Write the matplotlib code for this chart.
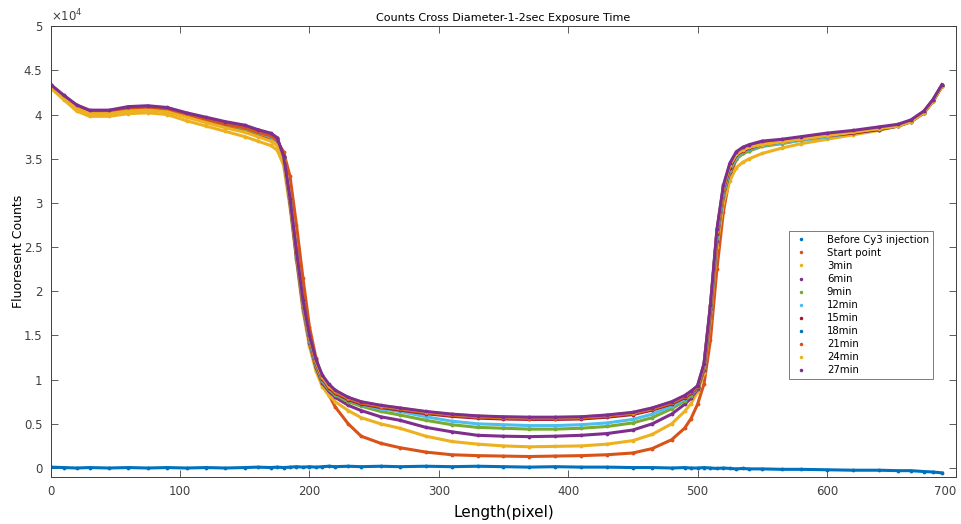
import matplotlib
matplotlib.use("Agg")
import matplotlib.pyplot as plt
from matplotlib.lines import Line2D

# pixel positions along the diameter (sampled)
length_px = [0, 10, 20, 30, 45, 60, 75, 90, 105, 120,
             135, 150, 160, 170, 175, 180, 185, 190, 195, 200,
             205, 210, 215, 220, 230, 240, 255, 270, 290, 310,
             330, 350, 370, 390, 410, 430, 450, 465, 480, 490,
             495, 500, 505, 510, 515, 520, 525, 530, 535, 540,
             550, 565, 580, 600, 620, 640, 655, 665, 675, 682, 689]

before = [100, 50, 0, 50, 0, 50, 0, 50, 0, 50,
          0, 50, 100, 50, 100, 50, 100, 150, 100, 150,
          100, 150, 200, 150, 200, 150, 200, 150, 200, 150,
          200, 150, 100, 150, 100, 100, 50, 50, 0, 50,
          0, 0, 50, 0, -50, 0, -50, -100, -50, -100,
          -100, -150, -150, -200, -250, -250, -300, -300, -400, -450, -550]

start = [43200, 41900, 40800, 40200, 40200, 40500, 40600, 40400, 39800, 39200,
         38700, 38200, 37700, 37300, 37000, 35800, 33000, 27500, 21500, 16000,
         12500, 10000, 8300, 6900, 5000, 3600, 2800, 2300, 1800, 1500,
         1400, 1350, 1300, 1350, 1400, 1500, 1700, 2200, 3200, 4500,
         5600, 7200, 9500, 14500, 22500, 29000, 33000, 35000, 35800, 36200,
         36600, 36900, 37200, 37600, 38000, 38400, 38800, 39300, 40300, 41600, 43300]

m3 = [43000, 41700, 40400, 39800, 39800, 40100, 40200, 40000, 39300, 38700,
      38100, 37500, 37000, 36500, 36000, 34300, 29500, 23500, 17800, 13800,
      11000, 9200, 8200, 7500, 6500, 5700, 5000, 4500, 3600, 3000,
      2700, 2500, 2400, 2450, 2500, 2700, 3100, 3800, 5000, 6400,
      7300, 8600, 10700, 16800, 25000, 30000, 32500, 34000, 34600, 35000,
      35600, 36200, 36700, 37200, 37700, 38200, 38700, 39200, 40200, 41500, 43200]

m6 = [43300, 42100, 41000, 40400, 40400, 40800, 40900, 40700, 40100, 39600,
      39100, 38700, 38200, 37800, 37300, 35200, 30000, 23800, 18200, 14200,
      11400, 9600, 8700, 8000, 7100, 6500, 5800, 5400, 4600, 4100,
      3700, 3600, 3550, 3600, 3700, 3900, 4300, 5000, 6100, 7200,
      7900, 8900, 11100, 17300, 25700, 30800, 33500, 35000, 35600, 35900,
      36500, 36900, 37200, 37600, 38000, 38400, 38800, 39300, 40300, 41600, 43300]

m9 = [43200, 42000, 40900, 40300, 40300, 40600, 40700, 40500, 40000, 39400,
      38900, 38400, 37900, 37500, 37000, 35000, 30000, 24000, 18400, 14400,
      11600, 9800, 8900, 8250, 7500, 7000, 6400, 6000, 5400, 4900,
      4600, 4500, 4400, 4400, 4500, 4700, 5100, 5700, 6700, 7600,
      8200, 9000, 11300, 17600, 26000, 31000, 33600, 35000, 35600, 35900,
      36400, 36700, 37100, 37500, 37900, 38300, 38700, 39200, 40200, 41500, 43200]

m12 = [43200, 42000, 40900, 40300, 40300, 40600, 40700, 40500, 40000, 39400,
       38900, 38500, 38000, 37500, 37000, 35000, 30000, 24000, 18500, 14500,
       11800, 10000, 9000, 8400, 7700, 7200, 6700, 6400, 5800, 5300,
       5000, 4900, 4800, 4800, 4900, 5100, 5500, 6100, 7000, 7800,
       8400, 9100, 11400, 17800, 26200, 31200, 33800, 35200, 35800, 36100,
       36500, 36800, 37100, 37500, 37900, 38300, 38700, 39200, 40200, 41500, 43200]

m15 = [43300, 42100, 41000, 40400, 40400, 40800, 40900, 40700, 40100, 39600,
       39100, 38700, 38200, 37800, 37300, 35200, 30200, 24200, 18700, 14700,
       11900, 10100, 9100, 8450, 7750, 7250, 6850, 6550, 6150, 5850,
       5650, 5550, 5500, 5500, 5550, 5750, 6050, 6550, 7250, 7950,
       8450, 9100, 11500, 18000, 26500, 31500, 34000, 35400, 35900, 36200,
       36600, 36900, 37200, 37600, 37900, 38300, 38700, 39200, 40200, 41500, 43200]

m18 = [43300, 42100, 41000, 40400, 40400, 40700, 40800, 40600, 40100, 39500,
       39000, 38600, 38100, 37700, 37200, 35100, 30400, 24400, 18900, 14900,
       12100, 10300, 9300, 8650, 7900, 7400, 7000, 6700, 6300, 6000,
       5800, 5700, 5650, 5650, 5700, 5900, 6200, 6700, 7400, 8100,
       8600, 9200, 11700, 18300, 26800, 31800, 34300, 35600, 36100, 36400,
       36800, 37000, 37300, 37700, 38100, 38500, 38800, 39300, 40300, 41600, 43300]

m21 = [43300, 42000, 40900, 40300, 40300, 40600, 40700, 40500, 40000, 39400,
       38900, 38500, 38000, 37600, 37100, 35000, 30300, 24300, 18800, 14800,
       12000, 10200, 9200, 8550, 7850, 7350, 6950, 6650, 6250, 5950,
       5750, 5650, 5600, 5600, 5650, 5850, 6150, 6650, 7350, 8050,
       8550, 9150, 11600, 18200, 26700, 31700, 34200, 35500, 36000, 36300,
       36700, 37000, 37300, 37700, 38000, 38400, 38800, 39300, 40300, 41600, 43300]

m24 = [43200, 41900, 40700, 40100, 40100, 40400, 40500, 40300, 39700, 39100,
       38500, 38000, 37500, 37000, 36500, 34800, 30300, 24300, 18800, 14800,
       12100, 10300, 9300, 8700, 7970, 7470, 7070, 6770, 6370, 6070,
       5870, 5770, 5720, 5720, 5770, 5970, 6270, 6770, 7470, 8170,
       8670, 9250, 11700, 18300, 26800, 31800, 34300, 35500, 36000, 36300,
       36600, 36900, 37200, 37600, 38000, 38400, 38700, 39200, 40200, 41500, 43200]

m27 = [43400, 42200, 41100, 40500, 40500, 40900, 41000, 40800, 40200, 39700,
       39200, 38800, 38300, 37900, 37400, 35300, 30500, 24500, 19000, 15000,
       12300, 10500, 9500, 8800, 8000, 7500, 7100, 6800, 6400, 6100,
       5900, 5800, 5750, 5750, 5800, 6000, 6300, 6800, 7500, 8200,
       8700, 9300, 11800, 18500, 27000, 32000, 34500, 35800, 36300, 36600,
       37000, 37200, 37500, 37900, 38200, 38600, 38900, 39400, 40400, 41700, 43400]

labels = ['Before Cy3 injection', 'Start point', '3min', '6min', '9min', '12min',
          '15min', '18min', '21min', '24min', '27min']
series = [before, start, m3, m6, m9, m12, m15, m18, m21, m24, m27]
colors = ['#0072BD', '#D95319', '#EDB120', '#7E2F8E', '#77AC30', '#4DBEEE',
          '#A2142F', '#0072BD', '#D95319', '#EDB120', '#7E2F8E']

fig = plt.figure(figsize=(9.62, 5.24), dpi=100)
ax = fig.add_axes([0.0527, 0.090, 0.9413, 0.860])

for vals, c in zip(series, colors):
    ax.plot(length_px, vals, color=c, lw=2.2, marker='.', ms=3.5)

ax.set_xlim(0, 700)
ax.set_ylim(-1000, 50000)
ax.set_yticks([i * 5000 for i in range(11)])
ax.set_yticklabels(['0', '0.5', '1', '1.5', '2', '2.5', '3', '3.5', '4', '4.5', '5'])
ax.set_xticks(range(0, 701, 100))
ax.tick_params(direction='in', top=True, right=True, labelsize=8.5,
               colors='#404040', length=5, width=0.6, pad=6)
for s in ax.spines.values():
    s.set_color('#404040')
    s.set_linewidth(0.7)
# keep the last x tick label inside the figure
ax.get_xticklabels()[-1].set_horizontalalignment('right')

ax.text(0.0, 1.005, r'$\times10^4$', transform=ax.transAxes, fontsize=8.5,
        color='#404040', va='bottom', ha='left')
ax.set_title('Counts Cross Diameter-1-2sec Exposure Time', fontsize=8, pad=4)
ax.set_xlabel('Length(pixel)', fontsize=11, labelpad=5)
ax.set_ylabel('Fluoresent Counts', fontsize=9, labelpad=-1)

handles = [Line2D([], [], ls='none', marker='.', ms=3, color=c) for c in colors]
leg = ax.legend(handles, labels, loc='upper left', bbox_to_anchor=(0.81, 0.557),
                fontsize=7.3, frameon=True, fancybox=False, handlelength=1.5,
                labelspacing=0.3, borderpad=0.4, handletextpad=1.8)
leg.get_frame().set_edgecolor('#404040')
leg.get_frame().set_linewidth(0.6)

fig.savefig('out.png', dpi=100)
